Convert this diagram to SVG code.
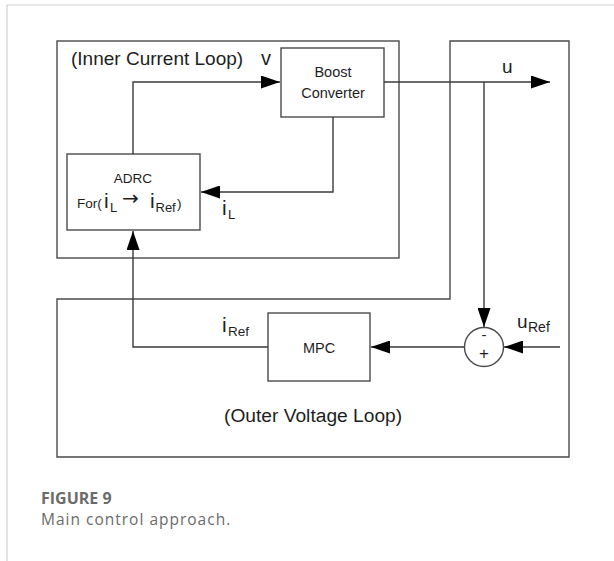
<svg xmlns="http://www.w3.org/2000/svg" width="614" height="561" viewBox="0 0 614 561">
<defs>
<style>
.box{fill:#fff;stroke:#4a4a4a;stroke-width:1.4}
.frame{fill:none;stroke:#4a4a4a;stroke-width:1.4}
.wire{fill:none;stroke:#3a3a3a;stroke-width:1.4}
.t{font-family:"Liberation Sans",Arial,sans-serif;fill:#1e1e1e}
.cap{font-family:"Open Sans",sans-serif;fill:#6b6b6b}
</style>
<marker id="ah" markerWidth="19" markerHeight="13" refX="19" refY="6.5" orient="auto" markerUnits="userSpaceOnUse">
<path d="M0,0 L19,6.5 L0,13 z" fill="#000"/>
</marker>
</defs>
<rect width="614" height="561" fill="#fff"/>
<path d="M7,561 V5 H614" fill="none" stroke="#cfcfcf" stroke-width="1.2"/>

<g id="inner-loop">
<rect class="frame" x="57" y="41" width="342" height="217"/>
<text class="t" x="71" y="65" font-size="19">(Inner Current Loop)</text>
</g>
<g id="outer-loop">
<path class="frame" d="M450,41 H569 V457 H57 V299 H450 Z"/>
<text class="t" x="224" y="422" font-size="19.2">(Outer Voltage Loop)</text>
</g>

<g id="boost">
<rect class="box" x="281" y="48" width="103" height="69"/>
<text class="t" x="333" y="77" font-size="14.5" text-anchor="middle">Boost</text>
<text class="t" x="333" y="98" font-size="14.5" text-anchor="middle">Converter</text>
</g>

<g id="adrc">
<rect class="box" x="67" y="154" width="133" height="76"/>
<text class="t" x="133" y="183" font-size="13.5" text-anchor="middle">ADRC</text>
<text class="t" font-size="13.5"><tspan x="77" y="208">For(</tspan><tspan x="104" y="208" font-size="21">i</tspan><tspan x="110" y="212" font-size="13">L</tspan><tspan x="122" y="205" font-size="20" font-family="DejaVu Sans,sans-serif">→</tspan><tspan x="150" y="208" font-size="21">i</tspan><tspan x="155.5" y="212" font-size="13">Ref</tspan><tspan x="177" y="208">)</tspan></text>
</g>

<g id="mpc">
<rect class="box" x="268" y="313" width="102" height="68"/>
<text class="t" x="319" y="353" font-size="14.5" text-anchor="middle">MPC</text>
</g>

<g id="sum">
<circle cx="484" cy="347" r="19.5" fill="#fff" stroke="#4a4a4a" stroke-width="1.4"/>
<text class="t" x="484" y="340" font-size="15" text-anchor="middle">-</text>
<text class="t" x="484" y="359" font-size="17" text-anchor="middle">+</text>
</g>

<g id="connectors">
<path class="wire" d="M133,154 V82 H280" marker-end="url(#ah)"/>
<path class="wire" d="M333,117 V192 H201" marker-end="url(#ah)"/>
<path class="wire" d="M384,82 H550" marker-end="url(#ah)"/>
<path class="wire" d="M484,82 V327" marker-end="url(#ah)"/>
<path class="wire" d="M464,347 H371" marker-end="url(#ah)"/>
<path class="wire" d="M560,347 H504" marker-end="url(#ah)"/>
<path class="wire" d="M268,347 H133 V231" marker-end="url(#ah)"/>
</g>

<g id="labels">
<text class="t" x="261" y="65" font-size="20">v</text>
<text class="t" x="502" y="73" font-size="19">u</text>
<text class="t" font-size="21"><tspan x="222" y="215">i</tspan><tspan x="228" y="219" font-size="13">L</tspan></text>
<text class="t" font-size="21"><tspan x="222" y="332">i</tspan><tspan x="228" y="336" font-size="13.5">Ref</tspan></text>
<text class="t" font-size="19"><tspan x="517" y="328">u</tspan><tspan x="528" y="332" font-size="14">Ref</tspan></text>
</g>

<g id="caption">
<text class="cap" x="41" y="504" font-size="16" font-weight="bold" fill="#666">FIGURE 9</text>
<text class="cap" x="41" y="525" font-size="15.5" letter-spacing="1">Main control approach.</text>
</g>
</svg>
